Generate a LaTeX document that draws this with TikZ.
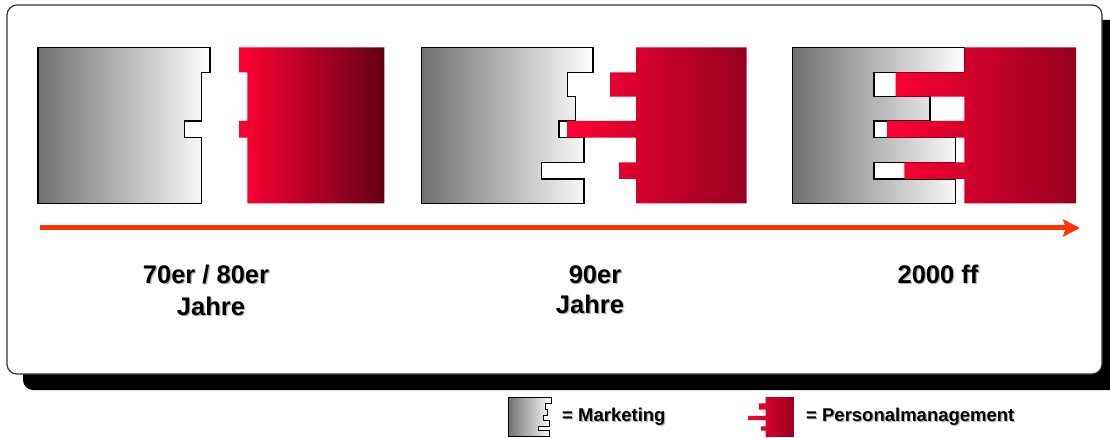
\documentclass[tikz,border=0pt]{standalone}
\usepackage{fontspec}
\setmainfont{Liberation Sans}
\usetikzlibrary{arrows.meta}
\definecolor{greyL}{RGB}{112,112,112}
\definecolor{redL}{RGB}{255,0,51}
\definecolor{redD1}{RGB}{100,0,22}
\definecolor{redD}{RGB}{150,0,32}
\definecolor{arrowC}{RGB}{255,51,0}
\definecolor{frameC}{RGB}{50,50,50}
\newcommand\shadtxt[1]{\leavevmode\rlap{\kern1.2pt\raisebox{-1.2pt}{\color{black!30}#1}}#1}
\tikzset{
  greybox/.style={left color=greyL, right color=white, draw=black, line width=1.1pt, line join=miter},
  redbox/.style={left color=redL, right color=#1, draw=none},
  label/.style={font=\fontsize{25.5}{30}\selectfont\bfseries, anchor=base, inner sep=0pt},
  legtext/.style={font=\fontsize{18.5}{22}\selectfont\bfseries, anchor=base west, inner sep=0pt},
  timeline/.style={draw=arrowC, line width=5pt, -{Stealth[length=17pt,width=17pt,inset=3pt]}}
}
\newcommand\greyTwo{(421.7,47.3) -- (593,47.3) -- (593,72.3) -- (567.3,72.3) -- (567.3,96.7) -- (575.7,96.7) -- (575.7,121) -- (559,121) -- (559,137.7) -- (584,137.7) -- (584,162.3) -- (541.7,162.3) -- (541.7,179) -- (584,179) -- (584,203.3) -- (421.7,203.3) -- cycle}
\newcommand\redTwo{(636,47.3) -- (746.7,47.3) -- (746.7,203.3) -- (636,203.3) -- (636,179) -- (619,179) -- (619,162.3) -- (636,162.3) -- (636,137.7) -- (567.3,137.7) -- (567.3,121) -- (636,121) -- (636,96.7) -- (610,96.7) -- (610,72.3) -- (636,72.3) -- cycle}
\begin{document}
\begin{tikzpicture}[x=1pt,y=-1pt]
\useasboundingbox (0,0) rectangle (1110,438);
\clip (0,0) rectangle (1110,438);
% frame with shadow
\fill[black, rounded corners=10pt] (23,20) rectangle (1120,390);
\draw[fill=white, draw=frameC, line width=1.2pt, rounded corners=10pt] (7,5) rectangle (1102,374);

% panel 1
\path[greybox] (38,47.3) -- (210,47.3) -- (210,72.3) -- (201.7,72.3) -- (201.7,121) -- (184.7,121) -- (184.7,137.7) -- (201.7,137.7) -- (201.7,203.3) -- (38,203.3) -- cycle;
\path[redbox=redD1] (239,47.3) -- (384.3,47.3) -- (384.3,203.3) -- (247.3,203.3) -- (247.3,137.7) -- (239,137.7) -- (239,121) -- (247.3,121) -- (247.3,72.3) -- (239,72.3) -- cycle;

% panel 2
\path[greybox] \greyTwo;
\path[redbox=redD] \redTwo;

% panel 3
\path[greybox] (792.7,47.3) -- (964.3,47.3) -- (964.3,72.3) -- (874,72.3) -- (874,96.7) -- (930,96.7) -- (930,121) -- (874,121) -- (874,137.7) -- (955.7,137.7) -- (955.7,162.3) -- (874,162.3) -- (874,179) -- (955.7,179) -- (955.7,203.3) -- (792.7,203.3) -- cycle;
\path[redbox=redD] (964.3,47.3) -- (1076,47.3) -- (1076,203.3) -- (964.3,203.3) -- (964.3,179) -- (904.3,179) -- (904.3,162.3) -- (964.3,162.3) -- (964.3,137.7) -- (887.3,137.7) -- (887.3,121) -- (964.3,121) -- (964.3,96.7) -- (895.7,96.7) -- (895.7,72.3) -- (964.3,72.3) -- cycle;

% timeline
\coordinate (tstart) at (40,228);
\coordinate (tend) at (1080,228);
\draw[timeline] (tstart) -- (tend);

% labels
\node[label] (l1a) at (206,283) {\shadtxt{70er / 80er}};
\node[label] (l1b) at (211,315) {\shadtxt{Jahre}};
\node[label] (l2a) at (595,283) {\shadtxt{90er}};
\node[label] (l2b) at (590,313) {\shadtxt{Jahre}};
\node[label] (l3a) at (938,283) {\shadtxt{2000 ff}};

% legend
\begin{scope}[shift={(508,397)},scale=0.255,shift={(-421.7,-47.3)}]
\path[greybox, line width=0.7pt] \greyTwo;
\end{scope}
\begin{scope}[shift={(748,397)},scale=0.255,shift={(-567.3,-47.3)}]
\path[redbox=redD] \redTwo;
\end{scope}
\node[legtext] (lm) at (562,421) {\shadtxt{= Marketing}};
\node[legtext] (lp) at (806,421) {\shadtxt{= Personalmanagement}};
\end{tikzpicture}
\end{document}
